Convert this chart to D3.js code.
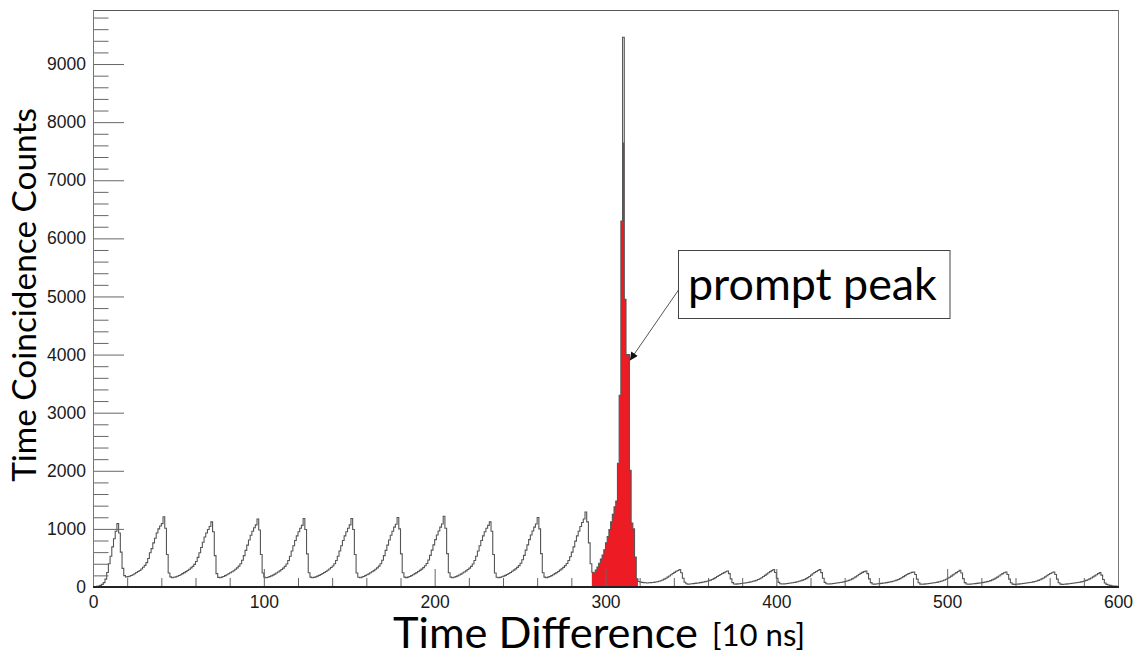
<!DOCTYPE html>
<html><head><meta charset="utf-8">
<script src="https://cdn.jsdelivr.net/npm/d3@7"></script>
<style>html,body{margin:0;padding:0;background:#fff;} svg{display:block;}</style>
</head><body>
<svg id="chart" width="1143" height="656"></svg>
<script>
// ---------------- data ----------------
// counts per bin, bin width = 1 unit of 10 ns, bins 0..599
const binCounts = [
  5, 8, 12, 18, 28, 45, 75, 135, 250, 400, 530, 690, 830, 960, 1090, 930, 600, 320, 195, 172,
  178, 186, 198, 212, 228, 250, 268, 285, 310, 340, 372, 420, 490, 590, 660, 760, 840, 930, 1000, 1050,
  1090, 1210, 1010, 560, 240, 175, 160, 168, 175, 185, 198, 212, 230, 248, 265, 285, 305, 330, 355, 390,
  440, 510, 590, 680, 770, 860, 930, 990, 1040, 1120, 950, 540, 230, 165, 158, 170, 180, 195, 210, 228,
  245, 262, 280, 305, 330, 360, 400, 460, 540, 630, 720, 810, 890, 960, 1020, 1070, 1170, 980, 560, 240,
  168, 160, 168, 178, 192, 205, 222, 240, 258, 278, 300, 325, 355, 395, 455, 530, 620, 710, 800, 880,
  950, 1010, 1060, 1180, 990, 570, 245, 170, 158, 165, 175, 188, 200, 215, 232, 250, 268, 288, 310, 335,
  362, 400, 455, 530, 620, 710, 800, 880, 950, 1010, 1070, 1180, 990, 560, 240, 168, 160, 170, 180, 195,
  210, 226, 244, 262, 282, 305, 330, 360, 400, 460, 540, 630, 720, 810, 890, 960, 1030, 1080, 1195, 1000,
  570, 245, 170, 162, 170, 182, 196, 212, 230, 248, 266, 286, 308, 334, 365, 405, 465, 545, 635, 725,
  815, 895, 965, 1030, 1085, 1218, 1010, 575, 245, 170, 160, 168, 178, 192, 206, 222, 240, 258, 278, 300,
  325, 355, 395, 455, 530, 620, 710, 800, 880, 950, 1010, 1060, 1120, 960, 560, 240, 168, 158, 166, 176,
  188, 200, 215, 232, 250, 270, 290, 312, 338, 368, 410, 470, 545, 635, 725, 815, 895, 965, 1030, 1085,
  1195, 1000, 575, 245, 170, 160, 170, 182, 196, 212, 230, 248, 268, 290, 312, 338, 368, 405, 455, 520,
  600, 690, 790, 880, 960, 1040, 1110, 1170, 1292, 1120, 760, 400, 255, 245, 290, 345, 410, 480, 550, 640,
  760, 870, 990, 1120, 1250, 1380, 1480, 2130, 3300, 6300, 9460, 4950, 4000, 4000, 2010, 1100, 1000, 517, 140, 95,
  85, 80, 75, 72, 70, 72, 75, 78, 80, 85, 90, 98, 108, 120, 135, 150, 170, 190, 210, 232,
  252, 270, 285, 300, 245, 150, 82, 56, 50, 52, 55, 58, 62, 66, 70, 75, 80, 86, 92, 100,
  108, 118, 130, 145, 162, 180, 198, 215, 232, 248, 262, 275, 230, 140, 75, 52, 50, 53, 56, 60,
  64, 68, 73, 78, 84, 90, 98, 106, 116, 128, 142, 160, 180, 200, 222, 245, 265, 282, 300, 250,
  150, 80, 55, 52, 54, 57, 60, 64, 68, 73, 78, 84, 90, 98, 108, 118, 130, 145, 162, 182,
  205, 228, 250, 268, 285, 300, 248, 150, 80, 55, 52, 54, 57, 60, 64, 68, 72, 77, 82, 88,
  95, 104, 114, 126, 140, 156, 174, 194, 214, 234, 252, 265, 275, 230, 140, 75, 52, 50, 52, 55,
  58, 62, 66, 70, 75, 80, 86, 92, 100, 108, 118, 130, 144, 160, 178, 196, 214, 230, 242, 252,
  258, 215, 135, 72, 50, 48, 50, 53, 56, 60, 64, 68, 73, 78, 84, 90, 98, 108, 120, 134,
  150, 168, 188, 208, 228, 248, 268, 287, 240, 145, 76, 52, 48, 50, 52, 55, 58, 62, 66, 70,
  75, 80, 86, 93, 100, 110, 122, 136, 152, 170, 190, 210, 230, 246, 258, 215, 135, 72, 50, 46,
  48, 50, 53, 56, 60, 64, 68, 72, 77, 82, 88, 95, 104, 114, 126, 140, 156, 174, 194, 214,
  232, 246, 258, 215, 135, 72, 50, 46, 48, 50, 53, 56, 60, 64, 68, 72, 77, 82, 88, 95,
  104, 114, 126, 140, 156, 174, 192, 210, 230, 247, 205, 130, 70, 45, 35, 28, 22, 18, 15, 12
];
// highlighted (red) prompt window: first bin and its filled counts
const promptStartBin = 292;
const promptCounts = [
  255, 245, 290, 345, 410, 480, 550, 640, 760, 870, 990, 1120, 1250, 1380, 1480, 2130,
  3300, 6300, 7650, 4950, 4000, 4000, 2010, 1100, 1000, 517, 140
];
const xTickValues = [0, 100, 200, 300, 400, 500, 600];
const yTickValues = [0, 1000, 2000, 3000, 4000, 5000, 6000, 7000, 8000, 9000];
const xDomain = [0, 600];
const yDomain = [0, 9930];
const xTitleMain = "Time Difference";
const xTitleUnit = "[10 ns]";
const yTitle = "Time Coincidence Counts";
const noteText = "prompt peak";
const noteTarget = [314.3, 3900];   // data point the arrow points at

// ---------------- layout ----------------
const svg = d3.select("#chart");
const L = 93, R = 1118, T = 10, B = 587;
const x = d3.scaleLinear().domain(xDomain).range([L, R]);
const y = d3.scaleLinear().domain(yDomain).range([B, T]);
const tickFont = "'Liberation Sans', Arial, Helvetica, sans-serif";
const titleFont = "Lato, 'Open Sans', sans-serif";

const stepPts = [];
binCounts.forEach((c, i) => { stepPts.push([i, c], [i + 1, c]); });
const redPts = [];
promptCounts.forEach((c, k) => { const i = promptStartBin + k; redPts.push([i, c], [i + 1, c]); });

svg.append("path")
  .datum(redPts)
  .attr("d", d3.area().x(d => x(d[0])).y0(y(0)).y1(d => y(d[1])))
  .attr("fill", "#ed1c24");

svg.append("path")
  .datum(stepPts)
  .attr("d", d3.line().x(d => x(d[0])).y(d => y(d[1])))
  .attr("fill", "none")
  .attr("stroke", "#555")
  .attr("stroke-width", 1.1);

// y axis (ticks inside)
const yMinor = d3.range(0, yDomain[1], 200).filter(v => v % 1000 !== 0);
const yAxisMinor = svg.append("g").attr("transform", `translate(${L},0)`)
  .call(d3.axisLeft(y).tickValues(yMinor).tickSizeInner(-15.5).tickSizeOuter(0).tickFormat(""));
const yAxis = svg.append("g").attr("transform", `translate(${L},0)`)
  .call(d3.axisLeft(y).tickValues(yTickValues).tickSizeInner(-31).tickSizeOuter(0).tickPadding(7).tickFormat(d3.format("d")));
[yAxisMinor, yAxis].forEach(g => { g.select(".domain").remove(); g.selectAll("line").attr("stroke", "#666"); });
yAxis.selectAll("text").attr("font-family", tickFont).attr("font-size", 17.5).attr("fill", "#1a1a1a");

// x axis (ticks inside)
const xMinor = d3.range(0, xDomain[1], 20).filter(v => v % 100 !== 0);
const xAxisMinor = svg.append("g").attr("transform", `translate(0,${B})`)
  .call(d3.axisBottom(x).tickValues(xMinor).tickSizeInner(-9).tickSizeOuter(0).tickFormat(""));
const xAxis = svg.append("g").attr("transform", `translate(0,${B})`)
  .call(d3.axisBottom(x).tickValues(xTickValues).tickSizeInner(-18).tickSizeOuter(0).tickPadding(9).tickFormat(d3.format("d")));
[xAxisMinor, xAxis].forEach(g => { g.select(".domain").remove(); g.selectAll("line").attr("stroke", "#666"); });
xAxis.selectAll("text").attr("font-family", tickFont).attr("font-size", 17.5).attr("fill", "#1a1a1a");

// frame
svg.append("line").attr("x1", L).attr("x2", R).attr("y1", T + 0.5).attr("y2", T + 0.5).attr("stroke", "#555");
svg.append("line").attr("x1", R + 0.5).attr("x2", R + 0.5).attr("y1", T).attr("y2", B).attr("stroke", "#777");
svg.append("line").attr("x1", L + 0.5).attr("x2", L + 0.5).attr("y1", T).attr("y2", B).attr("stroke", "#777");
svg.append("line").attr("x1", L).attr("x2", R + 1).attr("y1", B).attr("y2", B).attr("stroke", "#222").attr("stroke-width", 2);

function fit(sel, width) {
  sel.attr("font-size", 100);
  const w = sel.node().getComputedTextLength();
  sel.attr("font-size", 100 * width / w);
}

// axis titles
const xt1 = svg.append("text").attr("x", 393).attr("y", 648).attr("font-family", titleFont).attr("fill", "#000").text(xTitleMain);
fit(xt1, 305);
const xt2 = svg.append("text").attr("x", 712).attr("y", 646).attr("font-family", titleFont).attr("fill", "#000").text(xTitleUnit);
fit(xt2, 93);
const yt = svg.append("text").attr("transform", "translate(36,295) rotate(-90)").attr("text-anchor", "middle")
  .attr("font-family", titleFont).attr("fill", "#000").text(yTitle);
fit(yt, 374);

// annotation
const defs = svg.append("defs");
defs.append("marker").attr("id", "ah").attr("viewBox", "0 0 10 10").attr("refX", 10).attr("refY", 5)
  .attr("markerWidth", 10).attr("markerHeight", 8).attr("markerUnits", "userSpaceOnUse").attr("orient", "auto")
  .append("path").attr("d", "M0,0 L10,5 L0,10 z").attr("fill", "#111");
const boxX = 678.5, boxY = 250.5, boxW = 271.5, boxH = 68;
svg.append("line").attr("x1", boxX).attr("y1", 290).attr("x2", x(noteTarget[0])).attr("y2", y(noteTarget[1]))
  .attr("stroke", "#555").attr("stroke-width", 1).attr("marker-end", "url(#ah)");
svg.append("rect").attr("x", boxX).attr("y", boxY).attr("width", boxW).attr("height", boxH)
  .attr("fill", "#fff").attr("stroke", "#444").attr("stroke-width", 1);
const nt = svg.append("text").attr("x", 688).attr("y", 300).attr("font-family", titleFont).attr("fill", "#000").text(noteText);
fit(nt, 249);
</script>
</body></html>
